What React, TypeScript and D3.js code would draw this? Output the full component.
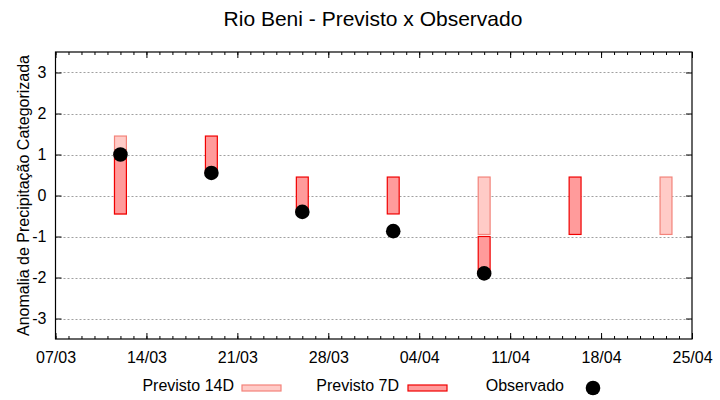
import { useRef, useEffect } from 'react'
import * as d3 from 'd3'

const WIDTH = 720
const HEIGHT = 400
const PLOT = { left: 55.5, right: 692, top: 52, bottom: 339 }

const TITLE = 'Rio Beni - Previsto x Observado'
const Y_LABEL = 'Anomalia de Precipitação Categorizada'

// forecast / observation dates (one bar per week)
const DATES = ['2024-03-12', '2024-03-19', '2024-03-26', '2024-04-02', '2024-04-09', '2024-04-16', '2024-04-23']
// Previsto 14D range (null = no bar)
const P14_LOW = [-0.45, null, null, null, -0.95, null, -0.95]
const P14_HIGH = [1.45, null, null, null, 0.45, null, 0.45]
// Previsto 7D range
const P7_LOW = [-0.45, 0.55, -0.4, -0.45, -1.9, -0.95, null]
const P7_HIGH = [1.0, 1.45, 0.45, 0.45, -1.0, 0.45, null]
// Observado
const OBS = [1.0, 0.55, -0.4, -0.87, -1.9, null, null]

const X_DOMAIN = ['2024-03-07', '2024-04-25']
const X_TICKS = ['2024-03-07', '2024-03-14', '2024-03-21', '2024-03-28', '2024-04-04', '2024-04-11', '2024-04-18', '2024-04-25']
const Y_TICKS = [-3, -2, -1, 0, 1, 2, 3]
const Y_DOMAIN = [-3.5, 3.5]

const C14 = { fill: '#ffcbc7', stroke: '#f3837a' }
const C7 = { fill: '#ff9b9b', stroke: '#f00000' }
const FONT = '"Liberation Sans", Arial, sans-serif'

export default function App() {
  const svgRef = useRef<SVGSVGElement>(null)

  useEffect(() => {
    document.body.style.margin = '0'
    if (!svgRef.current) return
    const parse = d3.utcParse('%Y-%m-%d')
    const dates = DATES.map((d) => parse(d) as Date)

    const x = d3.scaleUtc()
      .domain(X_DOMAIN.map((d) => parse(d) as Date))
      .range([PLOT.left, PLOT.right])
    const y = d3.scaleLinear().domain(Y_DOMAIN).range([PLOT.bottom, PLOT.top])

    const svg = d3.select(svgRef.current)
    svg.selectAll('*').remove()
    svg.attr('width', WIDTH).attr('height', HEIGHT).style('font-family', FONT)

    svg.append('rect').attr('width', WIDTH).attr('height', HEIGHT).attr('fill', '#fff')

    // Gridlines
    svg.append('g')
      .selectAll('line')
      .data(Y_TICKS)
      .join('line')
      .attr('x1', PLOT.left).attr('x2', PLOT.right)
      .attr('y1', (d) => Math.round(y(d)) + 0.5).attr('y2', (d) => Math.round(y(d)) + 0.5)
      .attr('stroke', '#a0a0a0').attr('stroke-dasharray', '2,2')

    // Bars: half width ~11h each side
    const half = 11 * 3600 * 1000
    const drawBars = (lo: (number | null)[], hi: (number | null)[], c: { fill: string, stroke: string }) => {
      const rows = dates.map((d, i) => ({ d, lo: lo[i], hi: hi[i] })).filter((r) => r.lo != null && r.hi != null)
      svg.append('g')
        .selectAll('rect')
        .data(rows)
        .join('rect')
        .attr('x', (r) => x(new Date(r.d.getTime() - half)))
        .attr('width', (r) => x(new Date(r.d.getTime() + half)) - x(new Date(r.d.getTime() - half)))
        .attr('y', (r) => y(r.hi as number))
        .attr('height', (r) => y(r.lo as number) - y(r.hi as number))
        .attr('fill', c.fill).attr('stroke', c.stroke).attr('stroke-width', 1.2)
    }
    drawBars(P14_LOW, P14_HIGH, C14)
    drawBars(P7_LOW, P7_HIGH, C7)

    // Observed points
    const obs = dates.map((d, i) => ({ d, v: OBS[i] })).filter((o) => o.v != null)
    svg.append('g')
      .selectAll('circle')
      .data(obs)
      .join('circle')
      .attr('cx', (o) => x(o.d)).attr('cy', (o) => y(o.v as number))
      .attr('r', 7.3).attr('fill', '#000')

    // Frame
    svg.append('rect')
      .attr('x', PLOT.left).attr('y', PLOT.top)
      .attr('width', PLOT.right - PLOT.left).attr('height', PLOT.bottom - PLOT.top)
      .attr('fill', 'none').attr('stroke', '#000').attr('stroke-width', 1.2)

    // X axis bottom (major weekly, minor daily), mirrored on top
    const xTicks = X_TICKS.map((d) => parse(d) as Date)
    const fmt = d3.utcFormat('%d/%m')
    svg.append('g')
      .attr('transform', `translate(0,${PLOT.bottom})`)
      .call(d3.axisBottom(x).ticks(d3.utcDay).tickSize(-3).tickFormat(() => ''))
      .call((g) => {
        g.select('.domain').remove()
        g.selectAll('line').attr('stroke', '#000')
      })
    svg.append('g')
      .attr('transform', `translate(0,${PLOT.bottom})`)
      .call(d3.axisBottom(x).tickValues(xTicks).tickSize(-6).tickPadding(13).tickFormat((d) => fmt(d as Date)))
      .call((g) => {
        g.select('.domain').remove()
        g.selectAll('line').attr('stroke', '#000')
        g.selectAll('text').attr('fill', '#000').attr('font-size', '16px').attr('font-family', FONT)
      })
    svg.append('g')
      .attr('transform', `translate(0,${PLOT.top})`)
      .call(d3.axisTop(x).ticks(d3.utcDay).tickSize(-3).tickFormat(() => ''))
      .call((g) => {
        g.select('.domain').remove()
        g.selectAll('line').attr('stroke', '#000')
      })
    svg.append('g')
      .attr('transform', `translate(0,${PLOT.top})`)
      .call(d3.axisTop(x).tickValues(xTicks).tickSize(-6).tickFormat(() => ''))
      .call((g) => {
        g.select('.domain').remove()
        g.selectAll('line').attr('stroke', '#000')
      })

    // Y axis left + mirrored right
    svg.append('g')
      .attr('transform', `translate(${PLOT.left},0)`)
      .call(d3.axisLeft(y).tickValues(Y_TICKS).tickSize(-6).tickPadding(9).tickFormat((d) => String(d)))
      .call((g) => {
        g.select('.domain').remove()
        g.selectAll('line').attr('stroke', '#000')
        g.selectAll('text').attr('fill', '#000').attr('font-size', '16px').attr('font-family', FONT)
      })
    svg.append('g')
      .attr('transform', `translate(${PLOT.right},0)`)
      .call(d3.axisRight(y).tickValues(Y_TICKS).tickSize(-6).tickFormat(() => ''))
      .call((g) => {
        g.select('.domain').remove()
        g.selectAll('line').attr('stroke', '#000')
      })

    // Title
    svg.append('text')
      .attr('x', 373).attr('y', 26)
      .attr('text-anchor', 'middle').attr('font-size', '21px').attr('fill', '#000')
      .text(TITLE)

    // Y label
    svg.append('text')
      .attr('transform', `translate(29,${(PLOT.top + PLOT.bottom) / 2}) rotate(-90)`)
      .attr('text-anchor', 'middle').attr('font-size', '16px').attr('fill', '#000')
      .text(Y_LABEL)

    // Legend
    const lg = svg.append('g').attr('font-size', '16px')
    const legendItems = [
      { label: 'Previsto 14D', textEnd: 234, sx: 242, c: C14 },
      { label: 'Previsto 7D', textEnd: 399, sx: 408, c: C7 },
    ]
    legendItems.forEach((it) => {
      lg.append('text').attr('x', it.textEnd).attr('y', 391).attr('text-anchor', 'end').attr('fill', '#000').text(it.label)
      lg.append('rect').attr('x', it.sx).attr('y', 385).attr('width', 39).attr('height', 6)
        .attr('fill', it.c.fill).attr('stroke', it.c.stroke).attr('stroke-width', 1.2)
    })
    lg.append('text').attr('x', 564).attr('y', 391).attr('text-anchor', 'end').attr('fill', '#000').text('Observado')
    lg.append('circle').attr('cx', 593).attr('cy', 388).attr('r', 7.3).attr('fill', '#000')
  }, [])

  return <svg ref={svgRef} style={{ display: 'block' }} />
}
